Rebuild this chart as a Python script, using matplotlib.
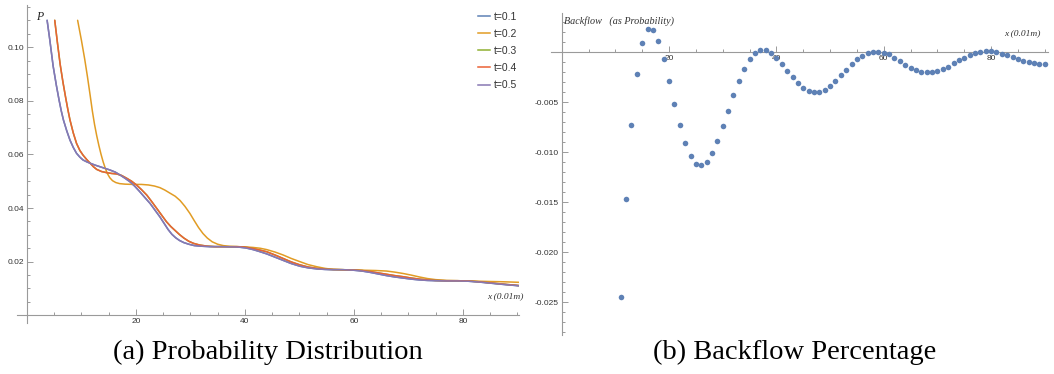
import matplotlib
matplotlib.use("Agg")
import matplotlib.pyplot as plt
from matplotlib.ticker import FixedLocator, FixedFormatter
from matplotlib.lines import Line2D

# ---------------- data: panel (a) probability distribution ----------------
x_t02 = [9.3, 10.0, 10.6, 11.1, 11.6, 12.0, 12.4, 12.8, 13.2, 13.6, 14.0, 14.4, 14.8, 15.2,
         15.7, 16.3, 17.0, 18.0, 19.5, 21.0, 22.3, 23.4, 24.4, 25.3, 26.2, 27.2, 28.1, 29.0,
         29.9, 30.7, 31.5, 32.3, 33.1, 34.0, 35.0, 36.0, 37.2, 38.5, 40.0, 41.5, 42.8, 44.0,
         45.5, 47.0, 48.5, 50.1, 51.6, 53.2, 54.7, 56.2, 58.0, 60.0, 62.0, 64.0, 66.0, 67.5,
         69.0, 70.5, 72.0, 73.5, 75.0, 77.0, 79.0, 81.0, 83.0, 85.0, 87.5, 90.3]
p_t02 = [0.1100, 0.1025, 0.0955, 0.0890, 0.0820, 0.0762, 0.0712, 0.0670, 0.0633, 0.0600,
         0.0571, 0.0547, 0.0527, 0.0513, 0.0502, 0.0495, 0.0491, 0.0489, 0.0488, 0.0488,
         0.0486, 0.0482, 0.0476, 0.0467, 0.0456, 0.0444, 0.0428, 0.0406, 0.0380, 0.0353,
         0.0327, 0.0305, 0.0288, 0.0274, 0.0265, 0.0260, 0.0257, 0.0256, 0.0255, 0.0253,
         0.0250, 0.0245, 0.0236, 0.0225, 0.0212, 0.0200, 0.0189, 0.0181, 0.0175, 0.0171,
         0.0170, 0.0169, 0.0168, 0.0167, 0.0165, 0.0161, 0.0156, 0.0150, 0.0143, 0.0137,
         0.0133, 0.0130, 0.0129, 0.0128, 0.0127, 0.0126, 0.0125, 0.0123]

x_t04 = [5.1, 5.6, 6.1, 6.6, 7.1, 7.5, 7.9, 8.5, 9.1, 9.7, 10.3, 11.0, 11.6, 12.2, 12.8, 13.7,
         14.6, 15.5, 16.5, 17.4, 18.3, 19.2, 20.1, 21.0, 22.0, 22.9, 23.8, 24.7, 25.6, 26.4,
         27.2, 28.0, 28.8, 29.7, 30.6, 31.7, 33.0, 34.5, 36.5, 38.5, 39.7, 40.7, 41.7, 42.8,
         44.0, 45.5, 47.0, 48.5, 50.1, 51.6, 53.2, 54.7, 56.2, 58.0, 60.0, 61.5, 63.0, 64.5,
         66.0, 67.5, 69.0, 70.5, 72.0, 73.5, 75.0, 77.0, 79.0, 81.0, 83.0, 85.0, 87.5, 90.3]
p_t04 = [0.1100, 0.1015, 0.0935, 0.0870, 0.0812, 0.0768, 0.0728, 0.0680, 0.0641, 0.0615,
         0.0597, 0.0580, 0.0567, 0.0554, 0.0544, 0.0536, 0.0532, 0.0529, 0.0527, 0.0521,
         0.0511, 0.0500, 0.0486, 0.0469, 0.0448, 0.0424, 0.0399, 0.0374, 0.0349, 0.0331,
         0.0316, 0.0301, 0.0288, 0.0276, 0.0268, 0.0262, 0.0258, 0.0256, 0.0256, 0.0256,
         0.0255, 0.0252, 0.0248, 0.0243, 0.0237, 0.0225, 0.0212, 0.0199, 0.0188, 0.0180,
         0.0175, 0.0172, 0.0171, 0.0170, 0.0169, 0.0167, 0.0163, 0.0158, 0.0153, 0.0148,
         0.0144, 0.0139, 0.0135, 0.0132, 0.0130, 0.0129, 0.0129, 0.0128, 0.0125, 0.0121,
         0.0116, 0.0111]

x_t05 = [3.7, 4.2, 4.8, 5.4, 5.9, 6.3, 6.7, 7.3, 7.9, 8.5, 9.1, 9.7, 10.3, 11.0, 11.6, 12.5,
         13.4, 14.3, 15.2, 16.2, 17.1, 18.0, 18.9, 19.8, 20.7, 21.6, 22.6, 23.5, 24.4, 25.2,
         25.9, 26.6, 27.3, 28.0, 28.8, 29.7, 30.7, 31.7, 33.5, 35.5, 37.5, 39.0, 40.2, 41.5,
         42.8, 44.0, 45.5, 47.0, 48.5, 50.1, 51.6, 53.2, 54.7, 56.2, 58.0, 60.0, 61.5, 63.0,
         64.5, 66.0, 67.5, 69.0, 70.5, 72.0, 73.5, 75.0, 77.0, 79.0, 81.0, 83.0, 85.0, 87.5,
         90.3]
p_t05 = [0.1100, 0.1026, 0.0930, 0.0857, 0.0802, 0.0762, 0.0728, 0.0688, 0.0653, 0.0626,
         0.0604, 0.0590, 0.0579, 0.0572, 0.0567, 0.0560, 0.0554, 0.0548, 0.0542, 0.0534,
         0.0523, 0.0511, 0.0498, 0.0481, 0.0461, 0.0440, 0.0417, 0.0392, 0.0367, 0.0342,
         0.0320, 0.0302, 0.0289, 0.0279, 0.0271, 0.0265, 0.0260, 0.0258, 0.0256, 0.0256,
         0.0255, 0.0254, 0.0251, 0.0245, 0.0237, 0.0229, 0.0217, 0.0205, 0.0193, 0.0183,
         0.0177, 0.0173, 0.0171, 0.0170, 0.0170, 0.0168, 0.0165, 0.0160, 0.0154, 0.0148,
         0.0143, 0.0139, 0.0135, 0.0132, 0.0130, 0.0129, 0.0128, 0.0128, 0.0127, 0.0124,
         0.0120, 0.0115, 0.0110]

# t=0.1 and t=0.3 coincide with other curves and are hidden underneath them
x_t01 = x_t05
p_t01 = p_t05
x_t03 = x_t04
p_t03 = p_t04

series_labels = ["t=0.1", "t=0.2", "t=0.3", "t=0.4", "t=0.5"]
series_colors = ["#5E81B5", "#E19C24", "#8FB032", "#EB6235", "#8778B3"]

xticks_a = [20, 40, 60, 80]
yticks_a = [0.02, 0.04, 0.06, 0.08, 0.10]
ytick_labels_a = ["0.02", "0.04", "0.06", "0.08", "0.10"]

# ---------------- data: panel (b) backflow ----------------
x_b = list(range(11, 91))
backflow = [-0.0245, -0.0147, -0.0073, -0.0022, 0.0009, 0.0023, 0.0022, 0.0011, -0.0007,
            -0.0029, -0.0052, -0.0073, -0.0091, -0.0104, -0.0112, -0.0113, -0.0110, -0.0101,
            -0.0089, -0.0074, -0.0059, -0.0043, -0.0029, -0.0017, -0.0007, -0.0001, 0.0002,
            0.0002, -0.0001, -0.0006, -0.0012, -0.0019, -0.0025, -0.0031, -0.0036, -0.0039,
            -0.0040, -0.0040, -0.0038, -0.0034, -0.0029, -0.0023, -0.0018, -0.0012, -0.0007,
            -0.0004, -0.0001, 0.0000, 0.0000, -0.0001, -0.0002, -0.0006, -0.0009, -0.0013,
            -0.0016, -0.0018, -0.0020, -0.0020, -0.0020, -0.0019, -0.0017, -0.0015, -0.0011,
            -0.0008, -0.0006, -0.0003, -0.0001, 0.0000, 0.0001, 0.0001, 0.0000, -0.0002,
            -0.0003, -0.0005, -0.0007, -0.0009, -0.0010, -0.0011, -0.0012, -0.0012]

xticks_b = [20, 40, 60, 80]
yticks_b = [-0.025, -0.020, -0.015, -0.010, -0.005]
ytick_labels_b = ["-0.025", "-0.020", "-0.015", "-0.010", "-0.005"]

# ---------------- figure ----------------
W, H = 1054, 374
fig = plt.figure(figsize=(W / 100, H / 100), dpi=100)
fig.patch.set_facecolor("white")

AXC = "#9a9a9a"
LBC = "#333333"
TICKFONT = "Liberation Sans"


def style_axes(ax):
    for s in ["top", "right"]:
        ax.spines[s].set_visible(False)
    for s in ["left", "bottom"]:
        ax.spines[s].set_position(("data", 0))
        ax.spines[s].set_color(AXC)
        ax.spines[s].set_linewidth(0.8)
    ax.tick_params(which="both", direction="in", color=AXC, width=0.7,
                   labelsize=6.0, labelcolor=LBC, pad=2)
    ax.tick_params(which="major", length=4)
    ax.tick_params(which="minor", length=2.3)
    for lab in ax.get_xticklabels() + ax.get_yticklabels():
        lab.set_fontfamily(TICKFONT)
    ax.set_facecolor("none")


# panel (a)
axA = fig.add_axes([16.6 / W, 1 - 323 / H, (519 - 16.6) / W, (323 - 5) / H])
series_x = [x_t01, x_t02, x_t03, x_t04, x_t05]
series_y = [p_t01, p_t02, p_t03, p_t04, p_t05]
for xs, ys, lab, col in zip(series_x, series_y, series_labels, series_colors):
    axA.plot(xs, ys, color=col, lw=1.1, label=lab, solid_capstyle="round",
             solid_joinstyle="round")
axA.set_xlim(-1.9, 90.3)
axA.set_ylim(-0.00287, 0.1157)
axA.xaxis.set_major_locator(FixedLocator(xticks_a))
axA.xaxis.set_major_formatter(FixedFormatter([str(v) for v in xticks_a]))
axA.xaxis.set_minor_locator(FixedLocator([v for v in range(5, 91, 5) if v not in xticks_a]))
axA.yaxis.set_major_locator(FixedLocator(yticks_a))
axA.yaxis.set_major_formatter(FixedFormatter(ytick_labels_a))
axA.yaxis.set_minor_locator(FixedLocator([round(0.005 * k, 3) for k in range(1, 24) if k % 4 != 0]))
style_axes(axA)

handles = [Line2D([], [], color=c, lw=1.1) for c in series_colors]
leg = axA.legend(handles, series_labels, loc="upper left", bbox_to_anchor=(477.5 / W, 1 - 11.5 / H),
                 bbox_transform=fig.transFigure, frameon=False, fontsize=7.5,
                 handlelength=1.2, handletextpad=0.4, labelspacing=0.69, borderpad=0,
                 borderaxespad=0)
for t in leg.get_texts():
    t.set_color("#333333")
    t.set_fontfamily(TICKFONT)

fig.text(40 / W, 1 - 16.5 / H, "P", family="Liberation Serif", style="italic",
         fontsize=8.5, color="#222222", ha="center", va="center")
fig.text(487 / W, 1 - 296 / H, "x (0.01m)", family="Liberation Serif", style="italic",
         fontsize=6.8, color="#333333", ha="left", va="center")

# panel (b)
axB = fig.add_axes([550.7 / W, 1 - 335 / H, (1048 - 550.7) / W, (335 - 13.3) / H])
axB.plot(x_b, backflow, "o", ms=4.0, color="#5E81B5", mec="none", zorder=3)
axB.set_xlim(-2.05, 90.6)
axB.set_ylim(-0.02827, 0.0039)
axB.xaxis.set_major_locator(FixedLocator(xticks_b))
axB.xaxis.set_major_formatter(FixedFormatter([str(v) for v in xticks_b]))
axB.xaxis.set_minor_locator(FixedLocator([v for v in range(5, 91, 5) if v not in xticks_b]))
axB.yaxis.set_major_locator(FixedLocator(yticks_b))
axB.yaxis.set_major_formatter(FixedFormatter(ytick_labels_b))
axB.yaxis.set_minor_locator(FixedLocator([round(0.001 * k, 3) for k in range(-28, 4)
                                          if k % 5 != 0]))
style_axes(axB)
for lab in axB.get_xticklabels():
    lab.set_zorder(4)

fig.text(564 / W, 1 - 20.7 / H, "Backflow   (as Probability)", family="Liberation Serif",
         style="italic", fontsize=7.3, color="#333333", ha="left", va="center")
fig.text(1004.5 / W, 1 - 33.3 / H, "x (0.01m)", family="Liberation Serif", style="italic",
         fontsize=6.8, color="#333333", ha="left", va="center")

# captions
fig.text(268 / W, 1 - 352 / H, "(a) Probability Distribution", family="Liberation Serif",
         fontsize=20.5, color="black", ha="center", va="center")
fig.text(795 / W, 1 - 352 / H, "(b) Backflow Percentage", family="Liberation Serif",
         fontsize=20.5, color="black", ha="center", va="center")

fig.savefig("out.png", dpi=100, facecolor="white")
